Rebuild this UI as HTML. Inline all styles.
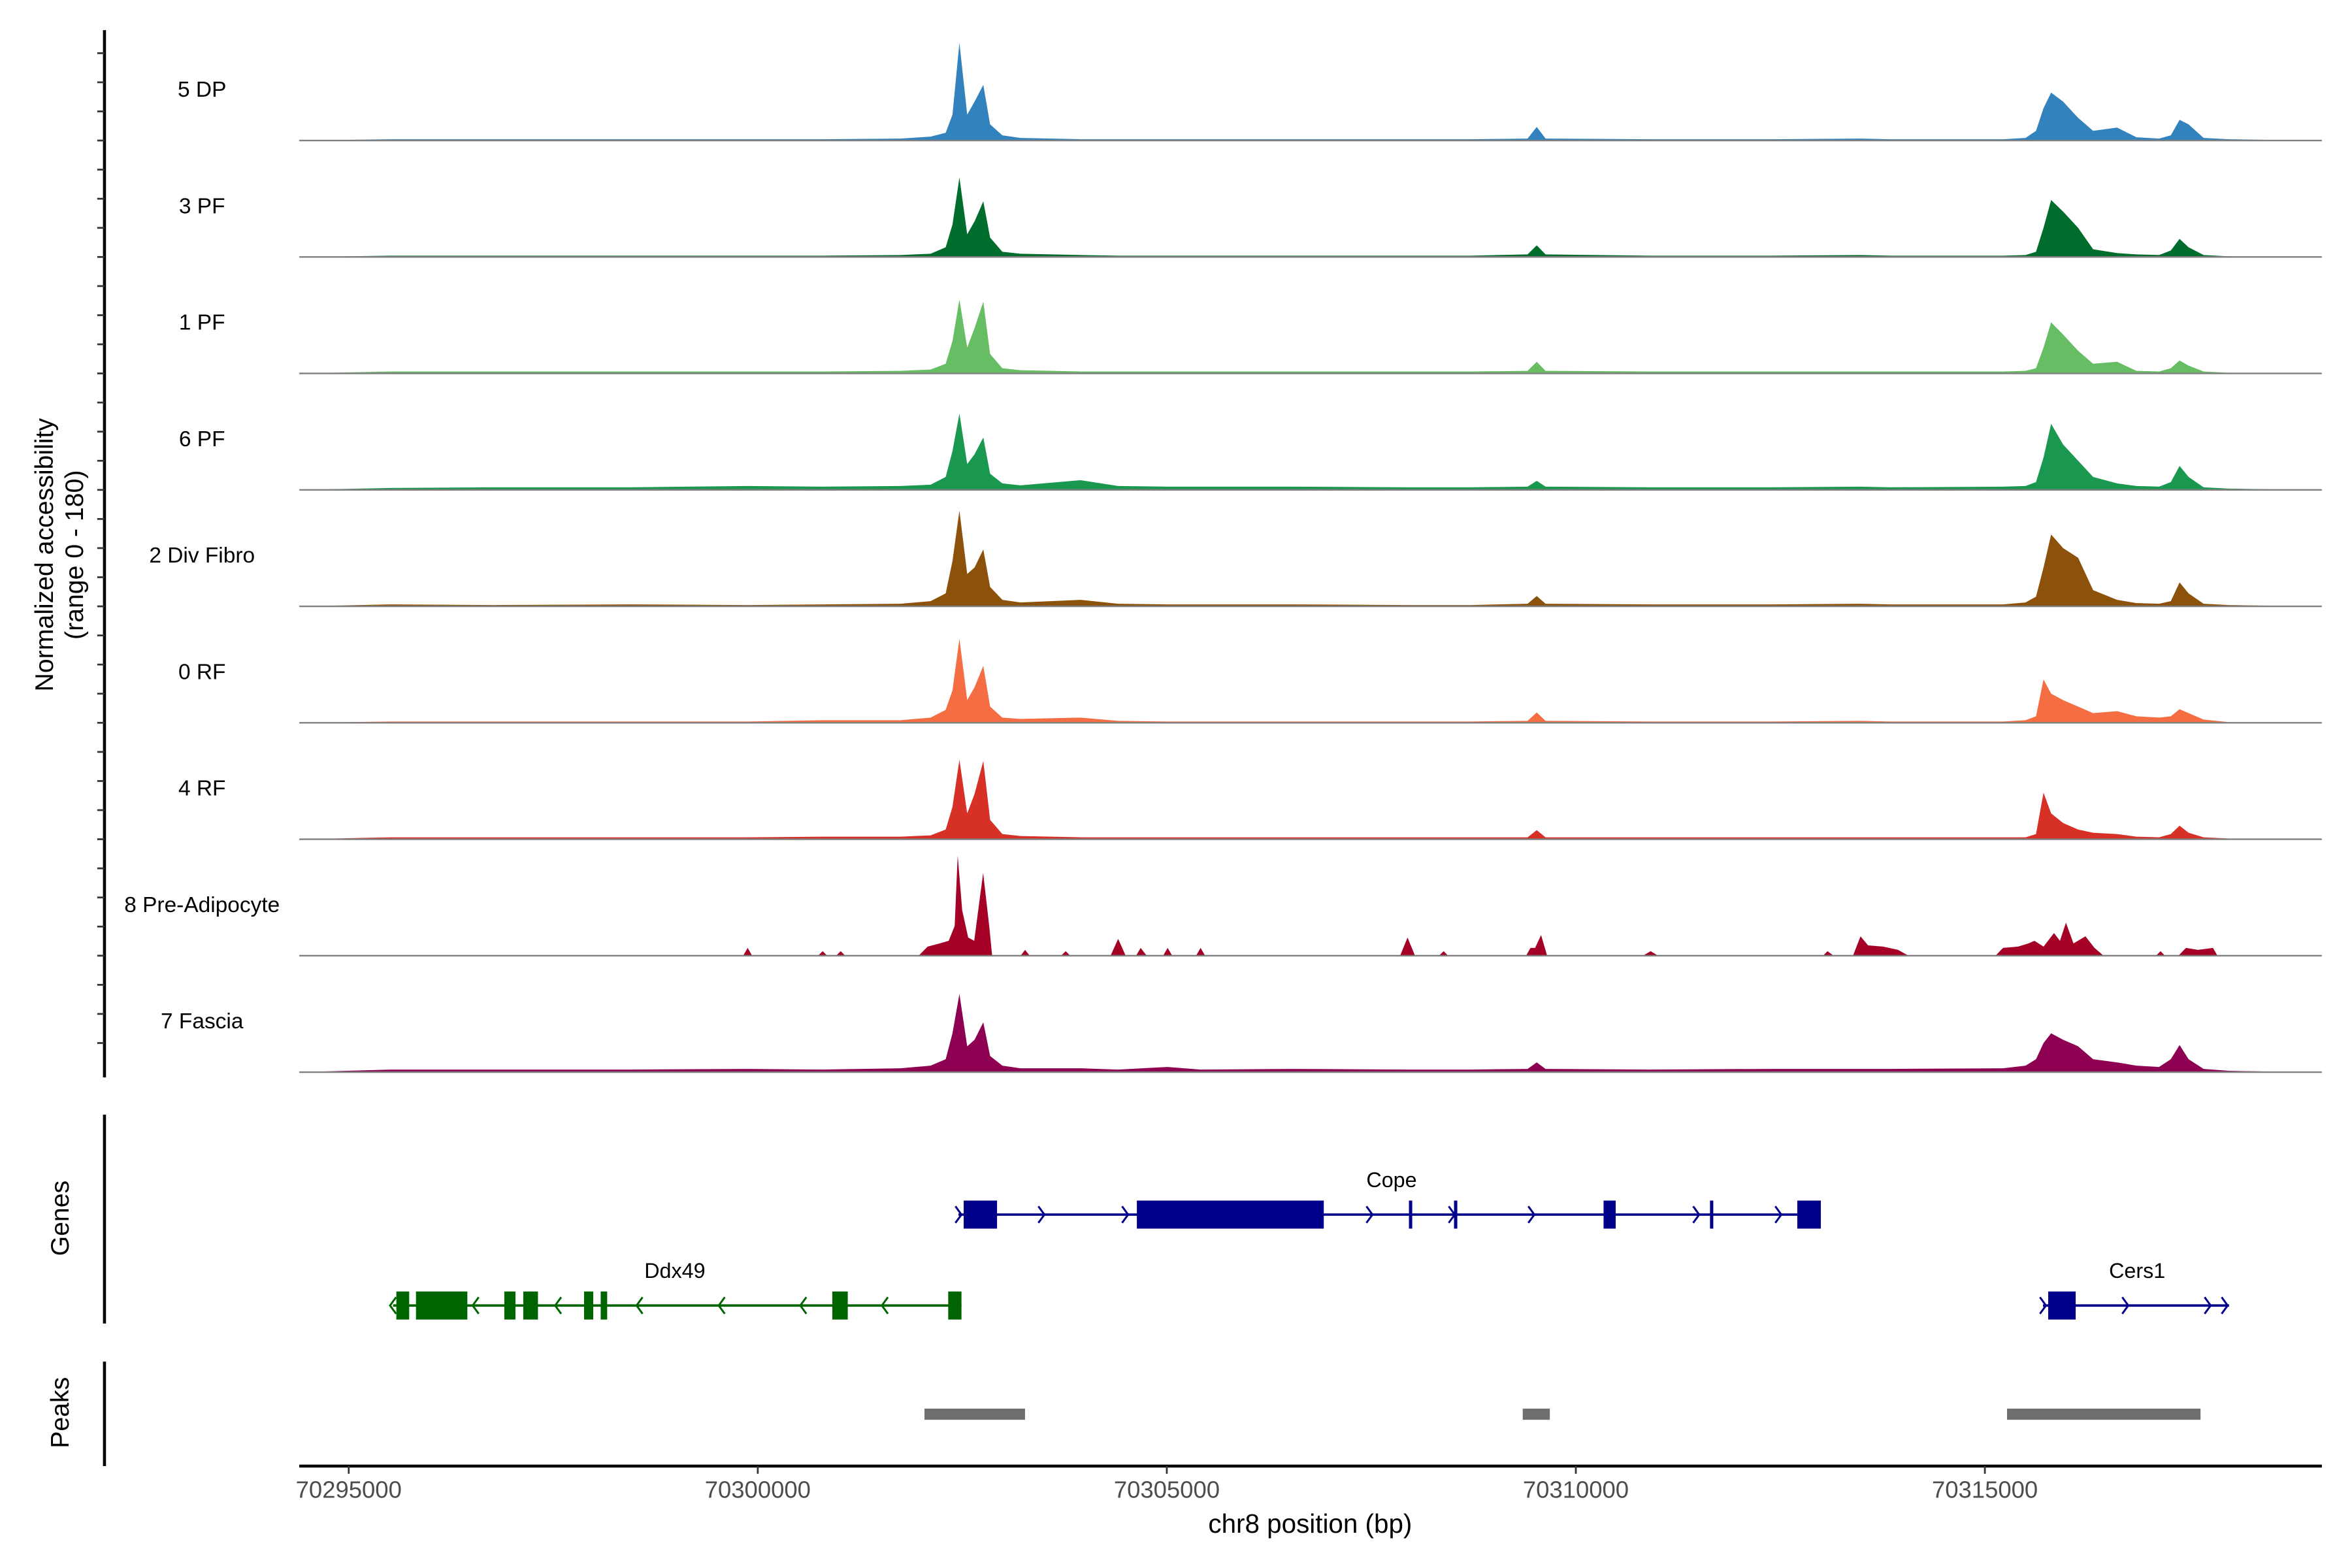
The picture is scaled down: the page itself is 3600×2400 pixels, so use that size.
<!DOCTYPE html>
<html><head><meta charset="utf-8"><style>
html,body{margin:0;padding:0;background:#fff}
svg{display:block}
text{font-family:"Liberation Sans",Arial,sans-serif}
</style></head><body>
<svg id="chart" xmlns="http://www.w3.org/2000/svg" width="3600" height="2400" viewBox="0 0 1560 1040">
<rect width="1560" height="1040" fill="#fff"/>
<g id="tracks"></g>
<g id="genes"></g>
<g id="peaks"></g>
<g id="axes"></g>
</svg>
<script>
const positions=[70294413,70295513,70296796,70298447,70299877,70300794,70301747,70302113,70302297,70302380,70302465,70302560,70302650,70302757,70302840,70302990,70303210,70303947,70304405,70305010,70305413,70306514,70307943,70308714,70309410,70309522,70309630,70310914,70312380,70313480,70313846,70315222,70315497,70315625,70315717,70315810,70315957,70316140,70316323,70316616,70316853,70317129,70317273,70317380,70317490,70317674,70317985,70318950];
const pos8Pre=[70294413,70299821,70299877,70299931,70300738,70300794,70300848,70300959,70301013,70301069,70301967,70302077,70302224,70302334,70302407,70302444,70302499,70302572,70302646,70302755,70302829,70302865,70303213,70303268,70303324,70303708,70303764,70303819,70304313,70304405,70304497,70304625,70304680,70304754,70304955,70305010,70305066,70305358,70305413,70305468,70307852,70307943,70308034,70308328,70308384,70308438,70309392,70309446,70309502,70309575,70309649,70310822,70310914,70311005,70313022,70313076,70313150,70313388,70313480,70313572,70313755,70313939,70314066,70315130,70315222,70315405,70315533,70315606,70315717,70315845,70315918,70315991,70316083,70316229,70316340,70316450,70317092,70317147,70317201,70317366,70317458,70317605,70317788,70317843,70318950];
const vals8Pre=[0,0,12,0,0,7,0,0,7,0,0,14,19,23,46,155,70,28,23,128,46,0,0,9,0,0,7,0,0,26,0,0,12,0,0,12,0,0,12,0,0,28,0,0,7,0,0,12,12,32,0,0,7,0,0,7,0,0,30,16,14,9,0,0,12,14,19,23,14,35,23,51,19,30,12,0,0,7,0,0,12,9,12,0,0];
const trackNames=["5 DP","3 PF","1 PF","6 PF","2 Div Fibro","0 RF","4 RF","8 Pre-Adipocyte","7 Fascia"];
const trackColors=["#3182bd","#006d2c","#66bd63","#1a9850","#8c510a","#f46d43","#d73027","#a50026","#8e0152"];
const vals5DP=[0,2,2,2,2,2,3,6,12,40,151,40,60,86,25,8,4,2,2,2,2,2,2,2,3,21,3,2,2,3,2,2,4,15,50,74,60,35,15,20,5,3,8,32,25,4,2,0];
const vals3PF=[0,2,2,2,2,2,3,5,15,50,123,35,55,86,30,8,5,3,2,2,2,2,2,2,4,18,4,2,2,3,2,2,3,8,45,88,70,45,12,6,4,3,10,28,15,3,1,0];
const vals1PF=[0,3,3,3,3,3,4,6,15,50,114,40,70,111,30,8,5,3,3,3,3,3,3,3,4,18,4,3,3,3,3,3,4,8,40,79,60,35,15,18,4,3,8,20,12,3,1,0];
const vals6PF=[0,3,4,4,6,5,6,8,20,60,118,40,55,81,25,10,7,15,6,5,5,5,4,4,5,14,5,4,4,5,4,5,6,12,50,102,70,45,20,10,6,5,12,37,20,4,2,0];
const vals2Div=[0,3,2,3,2,3,4,8,20,70,148,50,60,88,30,10,6,10,4,3,3,3,2,2,4,16,4,3,3,4,3,3,6,15,60,111,90,75,25,10,5,4,8,37,20,4,2,0];
const vals0RF=[0,2,2,2,2,4,4,8,20,50,130,35,55,88,25,8,6,8,3,2,2,2,2,2,3,16,3,2,2,3,2,2,4,10,67,45,35,25,15,18,10,8,10,21,15,5,1,0];
const vals4RF=[0,3,3,3,3,4,4,6,15,50,123,40,70,121,30,8,5,3,3,3,3,3,3,3,3,14,3,3,3,3,3,3,3,8,72,40,25,15,10,8,4,3,8,21,10,3,1,0];
const vals7Fascia=[0,4,4,4,5,4,6,10,20,60,121,40,50,77,25,10,6,6,4,8,4,5,4,4,5,15,5,4,5,5,5,6,10,20,45,60,50,40,20,15,10,8,20,42,20,5,2,0];
const trackValues=[vals5DP,vals3PF,vals1PF,vals6PF,vals2Div,vals0RF,vals4RF,vals8Pre,vals7Fascia];
const xTicks=[70295000,70300000,70305000,70310000,70315000];
const yMax=180;
const copeExons=[[70302517,70302925],[70304634,70306919],[70307960,70308000],[70308511,70308551],[70310339,70310487],[70311640,70311680],[70312707,70312995]];
const copeSpan=[70302453,70312995];
const copeArrows=[70302453,70303467,70304490,70307477,70308483,70309456,70311471,70312475];
const ddxExons=[[70295582,70295739],[70295822,70296450],[70296902,70297038],[70297134,70297313],[70297877,70297989],[70298080,70298159],[70300911,70301100],[70302328,70302490]];
const ddxSpan=[70295542,70302490];
const ddxArrows=[70295542,70296552,70297560,70298555,70299560,70300557,70301554];
const cersExons=[[70315774,70316110]];
const cersSpan=[70315710,70317985];
const cersArrows=[70315710,70316716,70317723,70317931];
const peakRegions=[[70302038,70303267],[70309351,70309682],[70315271,70317636]];

const NS="http://www.w3.org/2000/svg";
const X0=198.5,X1=1540;
function xs(bp){return 231.3+(bp-70295000)*(1085.2/20000);}
const base0=93.2,spacing=77.24,trackH=77.24;
function ys(v,i){return base0+i*spacing-v/yMax*trackH;}
function mk(tag,attrs,parent){const e=document.createElementNS(NS,tag);for(const k in attrs)e.setAttribute(k,attrs[k]);parent.appendChild(e);return e;}
const tracks=document.getElementById('tracks');
trackValues.forEach((vals,i)=>{
  const b=base0+i*spacing;
  const pos=(i===7)?pos8Pre:positions;
  let d="M"+xs(pos[0]).toFixed(2)+","+b;
  vals.forEach((v,j)=>{d+=" L"+xs(pos[j]).toFixed(2)+","+ys(v,i).toFixed(2);});
  d+=" L"+xs(pos[pos.length-1]).toFixed(2)+","+b+" Z";
  const p=mk('path',{d:d,fill:trackColors[i]},tracks);
  
  
  const l=mk('line',{x1:X0,x2:X1,y1:b,y2:b,stroke:'#7f7f7f','stroke-width':1},tracks);
  
  
  const t=mk('text',{x:134,y:b-29,'font-size':14.5,'text-anchor':'middle',fill:'#000'},tracks);
  t.textContent=trackNames[i];
  
  
});
const axes=document.getElementById('axes');
let a=mk('line',{x1:69.3,x2:69.3,y1:20,y2:714.6,stroke:'#000','stroke-width':2},axes);


for(let k=0;k<=35;k++){const y=base0-trackH+k*trackH/4; if(y<30) continue;
  const tk=mk('line',{x1:64.5,x2:69.3,y1:y,y2:y,stroke:'#333','stroke-width':1.2},axes);
  
  }
let yt=mk('text',{transform:'translate(35,368) rotate(-90)','font-size':17,'text-anchor':'middle'},axes);
yt.textContent='Normalized accessibility';


let yt2=mk('text',{transform:'translate(55,368) rotate(-90)','font-size':17,'text-anchor':'middle'},axes);
yt2.textContent='(range 0 - 180)';


a=mk('line',{x1:69.3,x2:69.3,y1:739.3,y2:877.8,stroke:'#000','stroke-width':2},axes);


let gt=mk('text',{transform:'translate(45.5,808) rotate(-90)','font-size':17,'text-anchor':'middle'},axes);
gt.textContent='Genes';


a=mk('line',{x1:69.3,x2:69.3,y1:903.1,y2:972.4,stroke:'#000','stroke-width':2},axes);


let pt=mk('text',{transform:'translate(45.5,937) rotate(-90)','font-size':17,'text-anchor':'middle'},axes);
pt.textContent='Peaks';


a=mk('line',{x1:X0,x2:X1,y1:972.4,y2:972.4,stroke:'#000','stroke-width':2},axes);


xTicks.forEach(v=>{const x=xs(v);
  const tk=mk('line',{x1:x,x2:x,y1:972.4,y2:977.5,stroke:'#333','stroke-width':1.2},axes);
  
  
  const tl=mk('text',{x:x,y:993.5,'font-size':15.8,'text-anchor':'middle',fill:'#4d4d4d'},axes);
  tl.textContent=String(v);
  
  });
let xt=mk('text',{x:869,y:1016.5,'font-size':17.5,'text-anchor':'middle'},axes);
xt.textContent='chr8 position (bp)';



const genes=document.getElementById('genes');
function gene(name,span,exons,arrows,y,color,dir,lx,ly){
  const g=mk('g',{},genes);
  
  
  mk('line',{x1:xs(span[0]),x2:xs(span[1]),y1:y,y2:y,stroke:color,'stroke-width':1.6},g);
  exons.forEach(e=>{const x=xs(e[0]),w=Math.max(1.8,xs(e[1])-x);
    const r=mk('rect',{x:x,y:y-9.3,width:w,height:18.6,fill:color},g);
    
    });
  arrows.forEach(v=>{const x=xs(v);
    const pts=dir>0?`${x-2},${y-5.5} ${x+2},${y} ${x-2},${y+5.5}`:`${x+2},${y-5.5} ${x-2},${y} ${x+2},${y+5.5}`;
    mk('polyline',{points:pts,fill:'none',stroke:color,'stroke-width':1.3},g);});
  const t=mk('text',{x:lx,y:ly,'font-size':14,'text-anchor':'middle'},g);
  t.textContent=name;
  
  
}
gene('Cope',copeSpan,copeExons,copeArrows,805.6,'#00008b',1,923,787.4);
gene('Ddx49',ddxSpan,ddxExons,ddxArrows,865.9,'#006400',-1,447.6,847.6);
gene('Cers1',cersSpan,cersExons,cersArrows,865.9,'#00008b',1,1417.5,847.6);

const peaks=document.getElementById('peaks');
peakRegions.forEach(p=>{const x=xs(p[0]);
  const r=mk('rect',{x:x,y:934.3,width:xs(p[1])-x,height:7.4,fill:'#6e6e6e'},peaks);
  
  });
</script>
</body></html>
